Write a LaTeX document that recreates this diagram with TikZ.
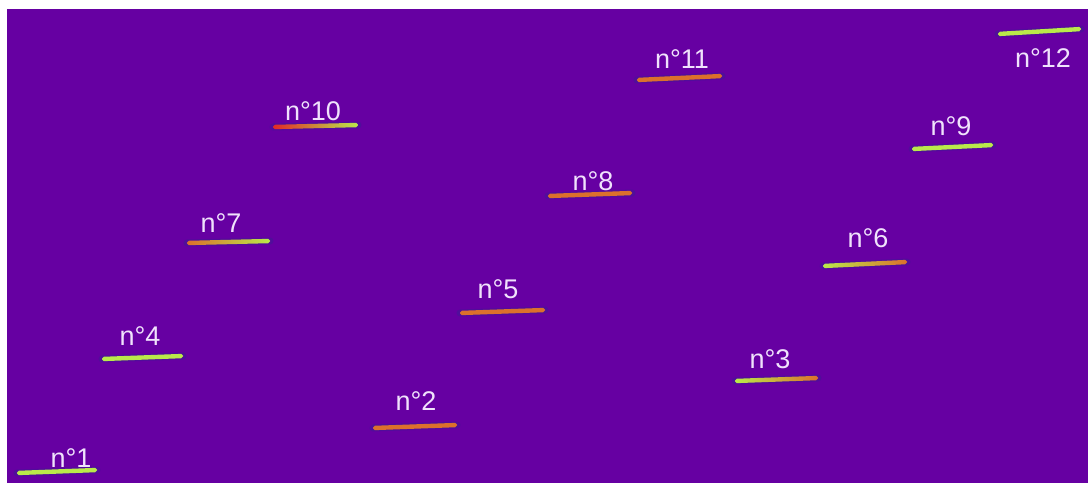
\documentclass[tikz,border=0pt]{standalone}
\usepackage{fontspec}
\setmainfont{Liberation Sans}
\usetikzlibrary{positioning}
\definecolor{bgpurple}{RGB}{102,0,162}
\definecolor{lime}{RGB}{186,234,74}
\definecolor{redd}{RGB}{226,40,40}
\definecolor{orng}{RGB}{220,112,44}
\definecolor{lbltxt}{RGB}{240,226,252}
\definecolor{halo}{RGB}{64,24,150}
% one bar: x1 y1 x2 y2, then left / middle / right colour
\newcommand{\probebar}[7]{%
\draw[halo,line width=7pt,line cap=round,opacity=.55](#1,#2)--(#3,#4);
\shade[rounded corners=1.8pt,left color=#5,middle color=#6,right color=#7](#1,#2-2.2)--(#3,#4-2.2)--(#3,#4+2.2)--(#1,#2+2.2)--cycle;}

\begin{document}
\begin{tikzpicture}[x=1pt,y=-1pt,lbl/.style={text=lbltxt,anchor=base,inner sep=0pt,font=\fontsize{27}{27}\selectfont}]
\fill[white](0,0) rectangle (1088,483);
\fill[bgpurple](7,9) rectangle (1088,483);
\useasboundingbox (0,0) rectangle (1088,483);
\probebar{17}{473}{97}{470}{lime}{lime}{lime}
\probebar{373}{428}{457}{425}{orng}{redd}{orng}
\probebar{735}{381}{818}{378}{lime}{redd}{orng}
\probebar{102}{359}{183}{356}{lime}{orng}{lime}
\probebar{460}{313}{545}{310}{orng}{redd}{orng}
\probebar{823}{266}{907}{262}{lime}{orng}{orng}
\probebar{187}{243}{270}{241}{orng}{redd}{lime}
\probebar{548}{196}{632}{193}{orng}{redd}{orng}
\probebar{912}{149}{993}{145}{lime}{lime}{lime}
\probebar{273}{127}{358}{125}{redd}{redd}{lime}
\probebar{637}{80}{722}{76}{orng}{redd}{orng}
\probebar{998}{34}{1081}{29}{lime}{lime}{lime}
\node[lbl] (n1) at (71,467) {n°1};
\node[lbl] (n2) at (416,410) {n°2};
\node[lbl] (n3) at (770,368) {n°3};
\node[lbl] (n4) at (140,345) {n°4};
\node[lbl] (n5) at (498,298) {n°5};
\node[lbl] (n6) at (868,247) {n°6};
\node[lbl] (n7) at (221,232) {n°7};
\node[lbl] (n8) at (593,190) {n°8};
\node[lbl] (n9) at (951,135) {n°9};
\node[lbl] (n10) at (313,120) {n°10};
\node[lbl] (n11) at (682,68) {n°11};
\node[lbl] (n12) at (1043,67) {n°12};
\end{tikzpicture}
\end{document}
